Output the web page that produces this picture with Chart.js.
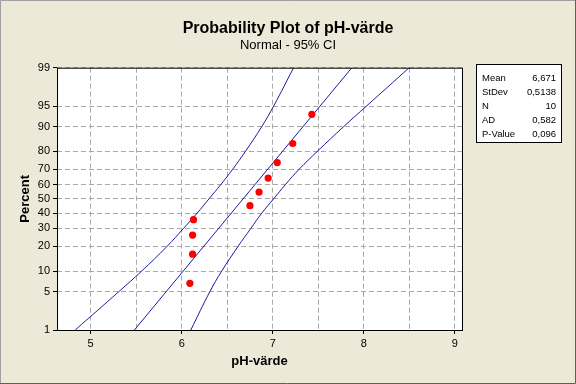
<!DOCTYPE html>
<html><head><meta charset="utf-8">
<script src="https://cdn.jsdelivr.net/npm/chart.js@4.4.1/dist/chart.umd.min.js"></script>
<style>html,body{margin:0;padding:0;background:#ECE9D8;}#wrap{width:576px;height:384px;position:relative;}</style>
</head><body><div id="wrap"><canvas id="c" width="576" height="384"></canvas></div>
<script>
// ---- data ----
const phValues = [6.09, 6.12, 6.12, 6.13, 6.75, 6.85, 6.95, 7.05, 7.22, 7.43];
const percentValues = [6.7, 16.3, 26.0, 35.6, 45.2, 54.8, 64.4, 74.0, 83.7, 93.3];
const fitPercent = [1, 99];
const fitValues = [5.48, 7.87];
const ciPercent = [1, 5, 10, 20, 30, 40, 50, 60, 70, 80, 90, 95, 99];
const ciLower = [4.83, 5.31, 5.56, 5.84, 6.02, 6.17, 6.30, 6.43, 6.56, 6.70, 6.88, 7.01, 7.23];
const ciUpper = [6.10, 6.31, 6.44, 6.62, 6.76, 6.88, 7.01, 7.14, 7.29, 7.49, 7.78, 8.03, 8.50];
const percentTicks = [1, 5, 10, 20, 30, 40, 50, 60, 70, 80, 90, 95, 99];
const xTicks = [5, 5.5, 6, 6.5, 7, 7.5, 8, 8.5, 9];
const xTickLabels = ['5', '', '6', '', '7', '', '8', '', '9'];
const statLabels = ['Mean', 'StDev', 'N', 'AD', 'P-Value'];
const statValues = ['6,671', '0,5138', '10', '0,582', '0,096'];
const titleText = 'Probability Plot of pH-värde';
const subtitleText = 'Normal - 95% CI';
const xTitle = 'pH-värde';
const yTitle = 'Percent';

// inverse normal CDF (probability-scale transform of the axis)
function probit(p){
  const a=[-3.969683028665376e+01,2.209460984245205e+02,-2.759285104469687e+02,1.383577518672690e+02,-3.066479806614716e+01,2.506628277459239e+00];
  const b=[-5.447609879822406e+01,1.615858368580409e+02,-1.556989798598866e+02,6.680131188771972e+01,-1.328068155288572e+01];
  const c=[-7.784894002430293e-03,-3.223964580411365e-01,-2.400758277161838e+00,-2.549732539343734e+00,4.374664141464968e+00,2.938163982698783e+00];
  const d=[7.784695709041462e-03,3.224671290700398e-01,2.445134137142996e+00,3.754408661907416e+00];
  const pl=0.02425, ph=1-pl; let q,r;
  if(p<pl){q=Math.sqrt(-2*Math.log(p));return (((((c[0]*q+c[1])*q+c[2])*q+c[3])*q+c[4])*q+c[5])/((((d[0]*q+d[1])*q+d[2])*q+d[3])*q+1);}
  if(p<=ph){q=p-0.5;r=q*q;return (((((a[0]*r+a[1])*r+a[2])*r+a[3])*r+a[4])*r+a[5])*q/(((((b[0]*r+b[1])*r+b[2])*r+b[3])*r+b[4])*r+1);}
  q=Math.sqrt(-2*Math.log(1-p));return -(((((c[0]*q+c[1])*q+c[2])*q+c[3])*q+c[4])*q+c[5])/((((d[0]*q+d[1])*q+d[2])*q+d[3])*q+1);
}
const toPts = (xs, ps) => xs.map((x, i) => ({x: x, y: probit(ps[i] / 100)}));

const FONT = "'Liberation Sans', Arial, sans-serif";
const lineColor = '#1c1ca0';

const framePlugin = {
  id: 'frame',
  beforeDraw(chart){
    const {ctx, chartArea: a} = chart;
    ctx.save();
    ctx.fillStyle = '#ECE9D8';
    ctx.fillRect(0, 0, chart.width, chart.height);
    ctx.fillStyle = '#ffffff';
    ctx.fillRect(a.left, a.top, a.right - a.left, a.bottom - a.top);
    ctx.restore();
  },
  afterDraw(chart){
    const {ctx, chartArea: a} = chart;
    ctx.save();
    ctx.setLineDash([]);
    ctx.lineWidth = 1;
    ctx.strokeStyle = '#000';
    ctx.strokeRect(a.left + 0.5, a.top + 0.5, a.right - a.left, a.bottom - a.top);
    // stats box
    const bx = 476, by = 64, bw = 85, bh = 78;
    ctx.fillStyle = '#fff';
    ctx.fillRect(bx, by, bw, bh);
    ctx.strokeStyle = '#000';
    ctx.strokeRect(bx + 0.5, by + 0.5, bw, bh);
    ctx.fillStyle = '#000';
    ctx.font = "9.5px " + FONT;
    ctx.textBaseline = 'alphabetic';
    statLabels.forEach((l, i) => {
      const y = 80.8 + 14 * i;
      ctx.textAlign = 'left';
      ctx.fillText(l, bx + 6, y);
      ctx.textAlign = 'right';
      ctx.fillText(statValues[i], bx + bw - 5, y);
    });
    // window border
    ctx.strokeStyle = '#a0a0a0';
    ctx.beginPath(); ctx.moveTo(0.5, chart.height); ctx.lineTo(0.5, 0.5); ctx.lineTo(chart.width, 0.5); ctx.stroke();
    ctx.strokeStyle = '#606060';
    ctx.beginPath(); ctx.moveTo(0, chart.height - 0.5); ctx.lineTo(chart.width - 0.5, chart.height - 0.5); ctx.lineTo(chart.width - 0.5, 0); ctx.stroke();
    ctx.restore();
  }
};

new Chart(document.getElementById('c'), {
  type: 'scatter',
  data: {
    datasets: [
      {label: 'data', data: toPts(phValues, percentValues), pointRadius: 3.6, pointHoverRadius: 3.6,
       pointBackgroundColor: '#ff0000', pointBorderColor: '#ff0000', pointBorderWidth: 0, showLine: false},
      {label: 'fit', data: toPts(fitValues, fitPercent), showLine: true, pointRadius: 0,
       borderColor: lineColor, borderWidth: 1},
      {label: 'lower', data: toPts(ciLower, ciPercent), showLine: true, pointRadius: 0,
       borderColor: lineColor, borderWidth: 1, tension: 0.4},
      {label: 'upper', data: toPts(ciUpper, ciPercent), showLine: true, pointRadius: 0,
       borderColor: lineColor, borderWidth: 1, tension: 0.4}
    ]
  },
  options: {
    responsive: false,
    animation: false,
    events: [],
    layout: {padding: 0},
    plugins: {
      legend: {display: false},
      tooltip: {enabled: false},
      title: {display: true, text: titleText, color: '#000',
        font: {family: FONT, size: 16, weight: 'bold', lineHeight: 1.0},
        padding: {top: 21, bottom: 0}},
      subtitle: {display: true, text: subtitleText, color: '#000',
        font: {family: FONT, size: 13, weight: 'normal', lineHeight: 1.0},
        padding: {top: 1.6, bottom: 16.1}}
    },
    scales: {
      x: {
        type: 'linear', min: 4.63, max: 9.08,
        afterBuildTicks: s => { s.ticks = xTicks.map(v => ({value: v})); },
        afterFit: s => { s.height = 54; },
        border: {display: false, dash: [5, 3]},
        grid: {color: '#a8a8a8', lineWidth: 1, tickLength: 4,
          tickColor: ctx => (ctx.tick && Math.abs(ctx.tick.value % 1) > 0.01) ? 'rgba(0,0,0,0)' : '#000'},
        ticks: {autoSkip: false, maxRotation: 0, padding: 3, color: '#000',
          font: {family: FONT, size: 11},
          callback: (v, i) => xTickLabels[i]},
        title: {display: true, text: xTitle, color: '#000',
          font: {family: FONT, size: 13, weight: 'bold', lineHeight: 1.2},
          padding: {top: 0, bottom: 14.5}}
      },
      y: {
        type: 'linear', min: probit(0.01), max: probit(0.99),
        afterBuildTicks: s => { s.ticks = percentTicks.map(p => ({value: probit(p / 100)})); },
        afterFit: s => { s.width = 57; },
        border: {display: false, dash: [5, 3]},
        grid: {color: '#a8a8a8', lineWidth: 1, tickLength: 4, tickColor: '#000'},
        ticks: {autoSkip: false, padding: 3, color: '#000',
          font: {family: FONT, size: 11},
          callback: (v, i) => String(percentTicks[i])},
        title: {display: true, text: yTitle, color: '#000',
          font: {family: FONT, size: 13, weight: 'bold', lineHeight: 1.2},
          padding: {top: 18, bottom: 0}}
      },
      rightSpace: {
        type: 'linear', position: 'right', display: true,
        afterFit: s => { s.width = 114; },
        grid: {display: false, drawTicks: false},
        border: {display: false},
        ticks: {display: false}
      }
    }
  },
  plugins: [framePlugin]
});
</script></body></html>
